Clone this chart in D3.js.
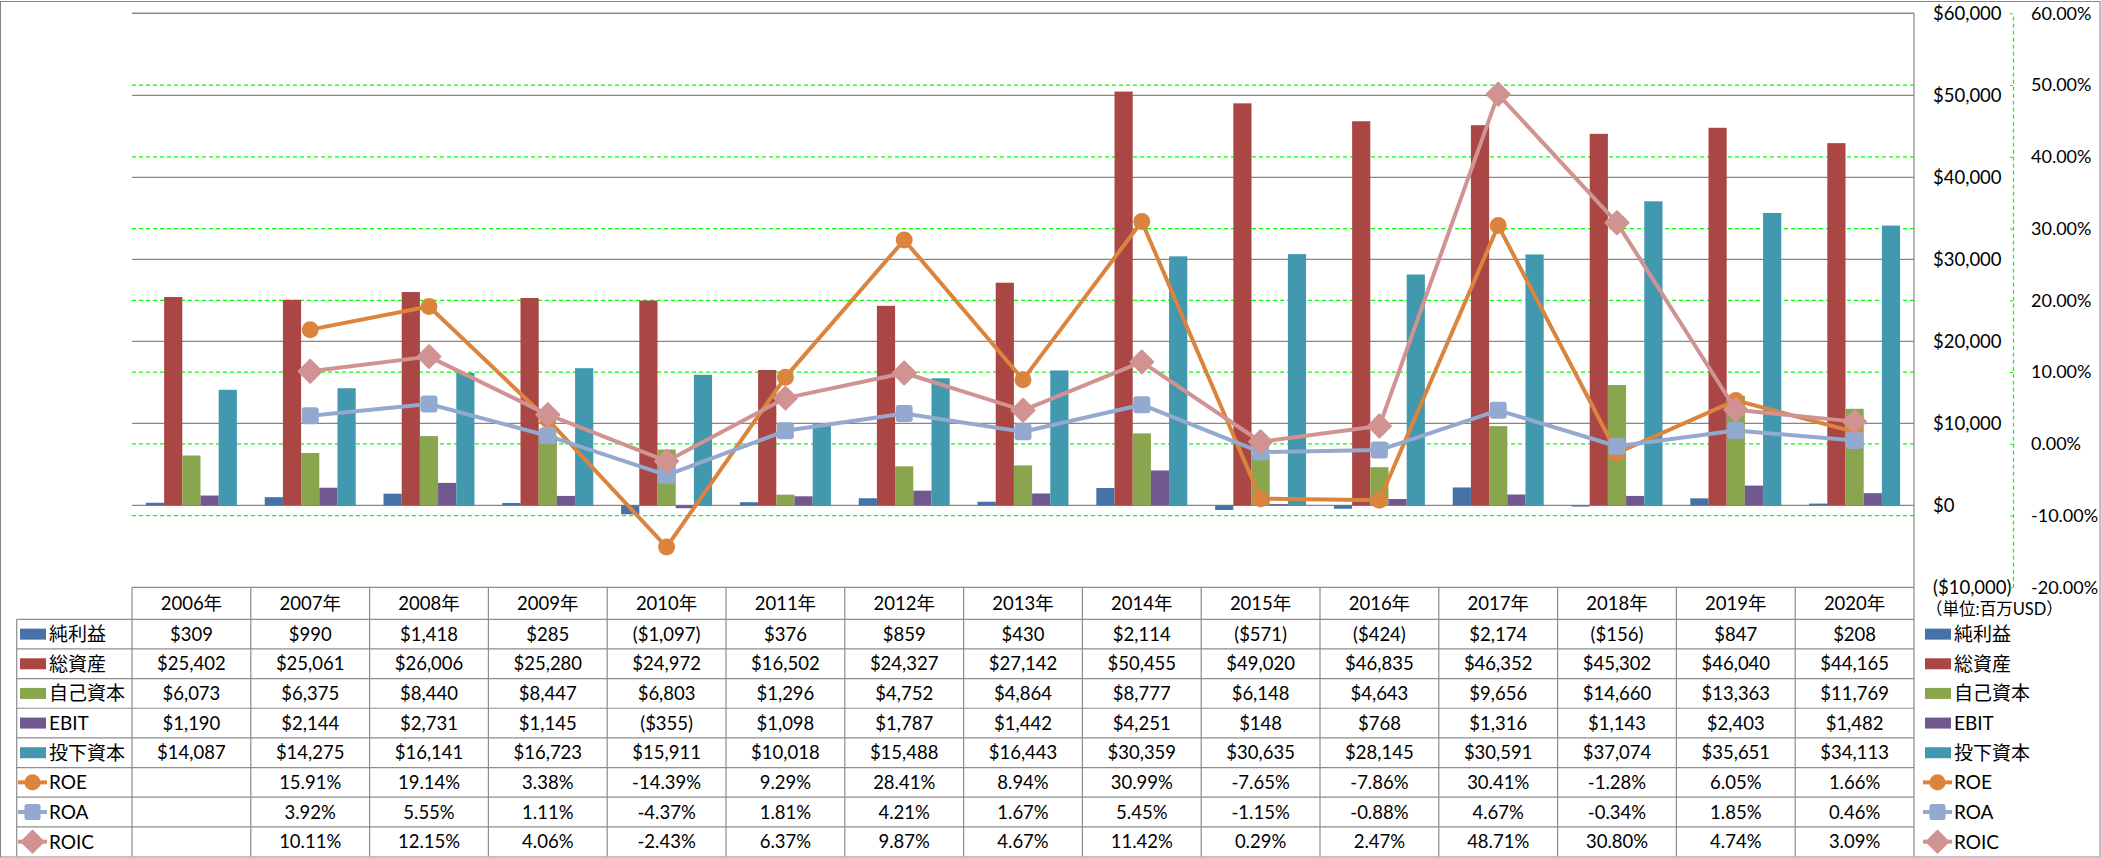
<!DOCTYPE html>
<html>
<head>
<meta charset="utf-8">
<script src="https://cdn.jsdelivr.net/npm/d3@7"></script>
<style>
  html, body { margin: 0; padding: 0; background: #fff; }
  svg { display: block; }
  text { font-family: "Lato", "Noto Sans CJK JP", sans-serif; fill: #000; }
</style>
</head>
<body>
<svg id="chart" width="2101" height="858"></svg>
<script>
// ---------- DATA ----------
const years = [2006, 2007, 2008, 2009, 2010, 2011, 2012, 2013, 2014, 2015, 2016, 2017, 2018, 2019, 2020];
const netIncome       = [309, 990, 1418, 285, -1097, 376, 859, 430, 2114, -571, -424, 2174, -156, 847, 208];
const totalAssets     = [25402, 25061, 26006, 25280, 24972, 16502, 24327, 27142, 50455, 49020, 46835, 46352, 45302, 46040, 44165];
const equity          = [6073, 6375, 8440, 8447, 6803, 1296, 4752, 4864, 8777, 6148, 4643, 9656, 14660, 13363, 11769];
const ebit            = [1190, 2144, 2731, 1145, -355, 1098, 1787, 1442, 4251, 148, 768, 1316, 1143, 2403, 1482];
const investedCapital = [14087, 14275, 16141, 16723, 15911, 10018, 15488, 16443, 30359, 30635, 28145, 30591, 37074, 35651, 34113];
const roe  = [null, 15.91, 19.14, 3.38, -14.39, 9.29, 28.41, 8.94, 30.99, -7.65, -7.86, 30.41, -1.28, 6.05, 1.66];
const roa  = [null, 3.92, 5.55, 1.11, -4.37, 1.81, 4.21, 1.67, 5.45, -1.15, -0.88, 4.67, -0.34, 1.85, 0.46];
const roic = [null, 10.11, 12.15, 4.06, -2.43, 6.37, 9.87, 4.67, 11.42, 0.29, 2.47, 48.71, 30.80, 4.74, 3.09];

const dollarTicks  = [-10000, 0, 10000, 20000, 30000, 40000, 50000, 60000];
const percentTicks = [-20, -10, 0, 10, 20, 30, 40, 50, 60];
const unitLabel = "（単位:百万USD）";

const barSeries = [
  { name: "純利益",   values: netIncome,       color: "#4572A7" },
  { name: "総資産",   values: totalAssets,     color: "#AA4643" },
  { name: "自己資本", values: equity,          color: "#89A54E" },
  { name: "EBIT",     values: ebit,            color: "#71588F" },
  { name: "投下資本", values: investedCapital, color: "#4198AF" }
];
const lineSeries = [
  { name: "ROE",  values: roe,  color: "#DB843D", marker: "circle" },
  { name: "ROA",  values: roa,  color: "#93A9CF", marker: "square" },
  { name: "ROIC", values: roic, color: "#D19392", marker: "diamond" }
];

// ---------- LAYOUT ----------
const svg = d3.select("#chart");
const plotL = 132, plotR = 1914, plotT = 13.3, plotB = 587.3;
const tableB = 856.5, labelColL = 16.7;
const gridGray = "#868686";
const fmtNum = d3.format(",");
const fmtDollar = v => v < 0 ? "($" + fmtNum(-v) + ")" : "$" + fmtNum(v);
const fmtPct = v => v == null ? "" : (v < 0 ? "-" : "") + Math.abs(v).toFixed(2) + "%";

const x0 = d3.scaleBand().domain(years).range([plotL, plotR]).padding(0);
const x1 = d3.scaleBand().domain(barSeries.map(s => s.name)).range([0, x0.bandwidth()]).paddingInner(0).paddingOuter(0.765);
const yL = d3.scaleLinear().domain([-10000, 60000]).range([plotB, plotT]);
const yR = d3.scaleLinear().domain([-20, 60]).range([plotB, plotT]);

// outer border
svg.append("rect").attr("x", 0.5).attr("y", 1.5).attr("width", 2099.5).attr("height", 855.5)
  .attr("fill", "none").attr("stroke", gridGray).attr("stroke-width", 1);

// green dashed gridlines (percent)
svg.append("g").selectAll("line").data(percentTicks.filter(t => t > -20 && t < 60)).join("line")
  .attr("x1", plotL).attr("x2", plotR)
  .attr("y1", d => yR(d)).attr("y2", d => yR(d))
  .attr("stroke", "#00FF00").attr("stroke-width", 1.2).attr("stroke-dasharray", "4,3");

// gray gridlines (dollar)
svg.append("g").selectAll("line").data(dollarTicks.filter(t => t > -10000)).join("line")
  .attr("x1", plotL).attr("x2", plotR)
  .attr("y1", d => yL(d)).attr("y2", d => yL(d))
  .attr("stroke", gridGray).attr("stroke-width", 1.2);

// bars
const gBars = svg.append("g");
barSeries.forEach(s => {
  gBars.append("g").selectAll("rect").data(years.map((yr, i) => ({ yr, v: s.values[i] }))).join("rect")
    .attr("x", d => x0(d.yr) + x1(s.name))
    .attr("width", x1.bandwidth())
    .attr("y", d => Math.min(yL(d.v), yL(0)))
    .attr("height", d => Math.abs(yL(d.v) - yL(0)))
    .attr("fill", s.color);
});

// marker drawing helper
function drawMarker(g, type, color, cx, cy, scale) {
  scale = scale || 1;
  if (type === "circle") {
    g.append("circle").attr("cx", cx).attr("cy", cy).attr("r", 8.5 * scale).attr("fill", color);
  } else if (type === "square") {
    const s = 17 * scale;
    g.append("rect").attr("x", cx - s / 2).attr("y", cy - s / 2).attr("width", s).attr("height", s)
      .attr("rx", 3 * scale).attr("fill", color);
  } else {
    const r = 11.5 * scale;
    g.append("path").attr("d", `M${cx},${cy - r}L${cx + r},${cy}L${cx},${cy + r}L${cx - r},${cy}Z`)
      .attr("fill", color).attr("stroke", color).attr("stroke-width", 2).attr("stroke-linejoin", "round");
  }
}

// lines
const cx = yr => x0(yr) + x0.bandwidth() / 2;
lineSeries.forEach(s => {
  const pts = years.map((yr, i) => ({ yr, v: s.values[i] })).filter(d => d.v != null);
  const line = d3.line().x(d => cx(d.yr)).y(d => yR(d.v));
  const g = svg.append("g");
  g.append("path").datum(pts).attr("d", line).attr("fill", "none")
    .attr("stroke", s.color).attr("stroke-width", 4).attr("stroke-linejoin", "round");
  pts.forEach(d => drawMarker(g, s.marker, s.color, cx(d.yr), yR(d.v)));
});

// plot top line & right border
svg.append("line").attr("x1", plotL).attr("x2", plotR).attr("y1", plotT).attr("y2", plotT)
  .attr("stroke", gridGray).attr("stroke-width", 1.2);
svg.append("line").attr("x1", plotR).attr("x2", plotR).attr("y1", plotT).attr("y2", tableB)
  .attr("stroke", gridGray).attr("stroke-width", 1.2);

// dollar axis (labels right of plot)
const axL = svg.append("g").attr("transform", `translate(${plotR},0)`)
  .call(d3.axisRight(yL).tickValues(dollarTicks).tickSize(0).tickPadding(19).tickFormat(fmtDollar));
axL.select(".domain").remove();
axL.selectAll("text").style("font-family", "Lato, sans-serif").style("font-size", "18.5px")
  .attr("fill", d => d < 0 ? "#FF0000" : "#000");

// percent axis
const axR = svg.append("g").attr("transform", "translate(2013,0)")
  .call(d3.axisRight(yR).tickValues(percentTicks).tickSizeInner(-3).tickSizeOuter(0).tickPadding(18)
    .tickFormat(fmtPct));
axR.select(".domain").attr("stroke", "#00FF00").attr("stroke-width", 1.2).attr("stroke-dasharray", "4,3");
axR.selectAll(".tick line").attr("stroke", "#00FF00");
axR.selectAll("text").style("font-family", "Lato, sans-serif").style("font-size", "18px")
  .attr("fill", d => d < 0 ? "#FF0000" : "#000");

// ---------- DATA TABLE ----------
const headerT = plotB, headerB = 619.3;
const rows = [...barSeries.map(s => ({ ...s, kind: "bar" })), ...lineSeries.map(s => ({ ...s, kind: "line" }))];
const rowH = (tableB - headerB) / rows.length;
const rowY = i => headerB + i * rowH;
const tableStroke = "#8C8C8C";
const gT = svg.append("g");

// header top line
gT.append("line").attr("x1", plotL).attr("x2", plotR).attr("y1", headerT).attr("y2", headerT)
  .attr("stroke", tableStroke).attr("stroke-width", 1.2);
// row lines
rows.forEach((r, i) => {
  gT.append("line").attr("x1", labelColL).attr("x2", plotR).attr("y1", rowY(i)).attr("y2", rowY(i))
    .attr("stroke", tableStroke).attr("stroke-width", 1.2);
});
// verticals
gT.append("line").attr("x1", labelColL).attr("x2", labelColL).attr("y1", headerB).attr("y2", tableB)
  .attr("stroke", tableStroke).attr("stroke-width", 1.2);
years.forEach(yr => {
  gT.append("line").attr("x1", x0(yr)).attr("x2", x0(yr)).attr("y1", headerT).attr("y2", tableB)
    .attr("stroke", tableStroke).attr("stroke-width", 1.2);
});

// header labels
gT.selectAll("text.yr").data(years).join("text").attr("class", "yr")
  .attr("x", d => cx(d)).attr("y", (headerT + headerB) / 2).attr("dy", "0.36em")
  .attr("text-anchor", "middle").style("font-size", "18.5px").text(d => d + "年");

// cell values
rows.forEach((r, i) => {
  const yc = rowY(i) + rowH / 2;
  gT.append("g").selectAll("text").data(years.map((yr, j) => ({ yr, v: r.values[j] }))).join("text")
    .attr("x", d => cx(d.yr)).attr("y", yc).attr("dy", "0.36em").attr("text-anchor", "middle")
    .style("font-size", "18.5px")
    .text(d => r.kind === "bar" ? fmtDollar(d.v) : fmtPct(d.v));
});

// legend keys (in table and on the right)
function legendKey(g, r, x, yc) {
  if (r.kind === "bar") {
    g.append("rect").attr("x", x).attr("y", yc - 5.5).attr("width", 26).attr("height", 11).attr("fill", r.color);
  } else {
    g.append("line").attr("x1", x - 2).attr("x2", x + 27).attr("y1", yc).attr("y2", yc)
      .attr("stroke", r.color).attr("stroke-width", 4);
    drawMarker(g, r.marker, r.color, x + 12.5, yc, 0.95);
  }
}
rows.forEach((r, i) => {
  const yc = rowY(i) + rowH / 2;
  legendKey(gT, r, 20, yc);
  gT.append("text").attr("x", 49).attr("y", yc).attr("dy", "0.36em").style("font-size", "19px").text(r.name);
  legendKey(gT, r, 1925, yc);
  gT.append("text").attr("x", 1954).attr("y", yc).attr("dy", "0.36em").style("font-size", "19px").text(r.name);
});

// unit label
svg.append("text").attr("x", 1926).attr("y", 609).attr("dy", "0.36em")
  .style("font-size", "16.5px").text(unitLabel);
</script>
</body>
</html>
